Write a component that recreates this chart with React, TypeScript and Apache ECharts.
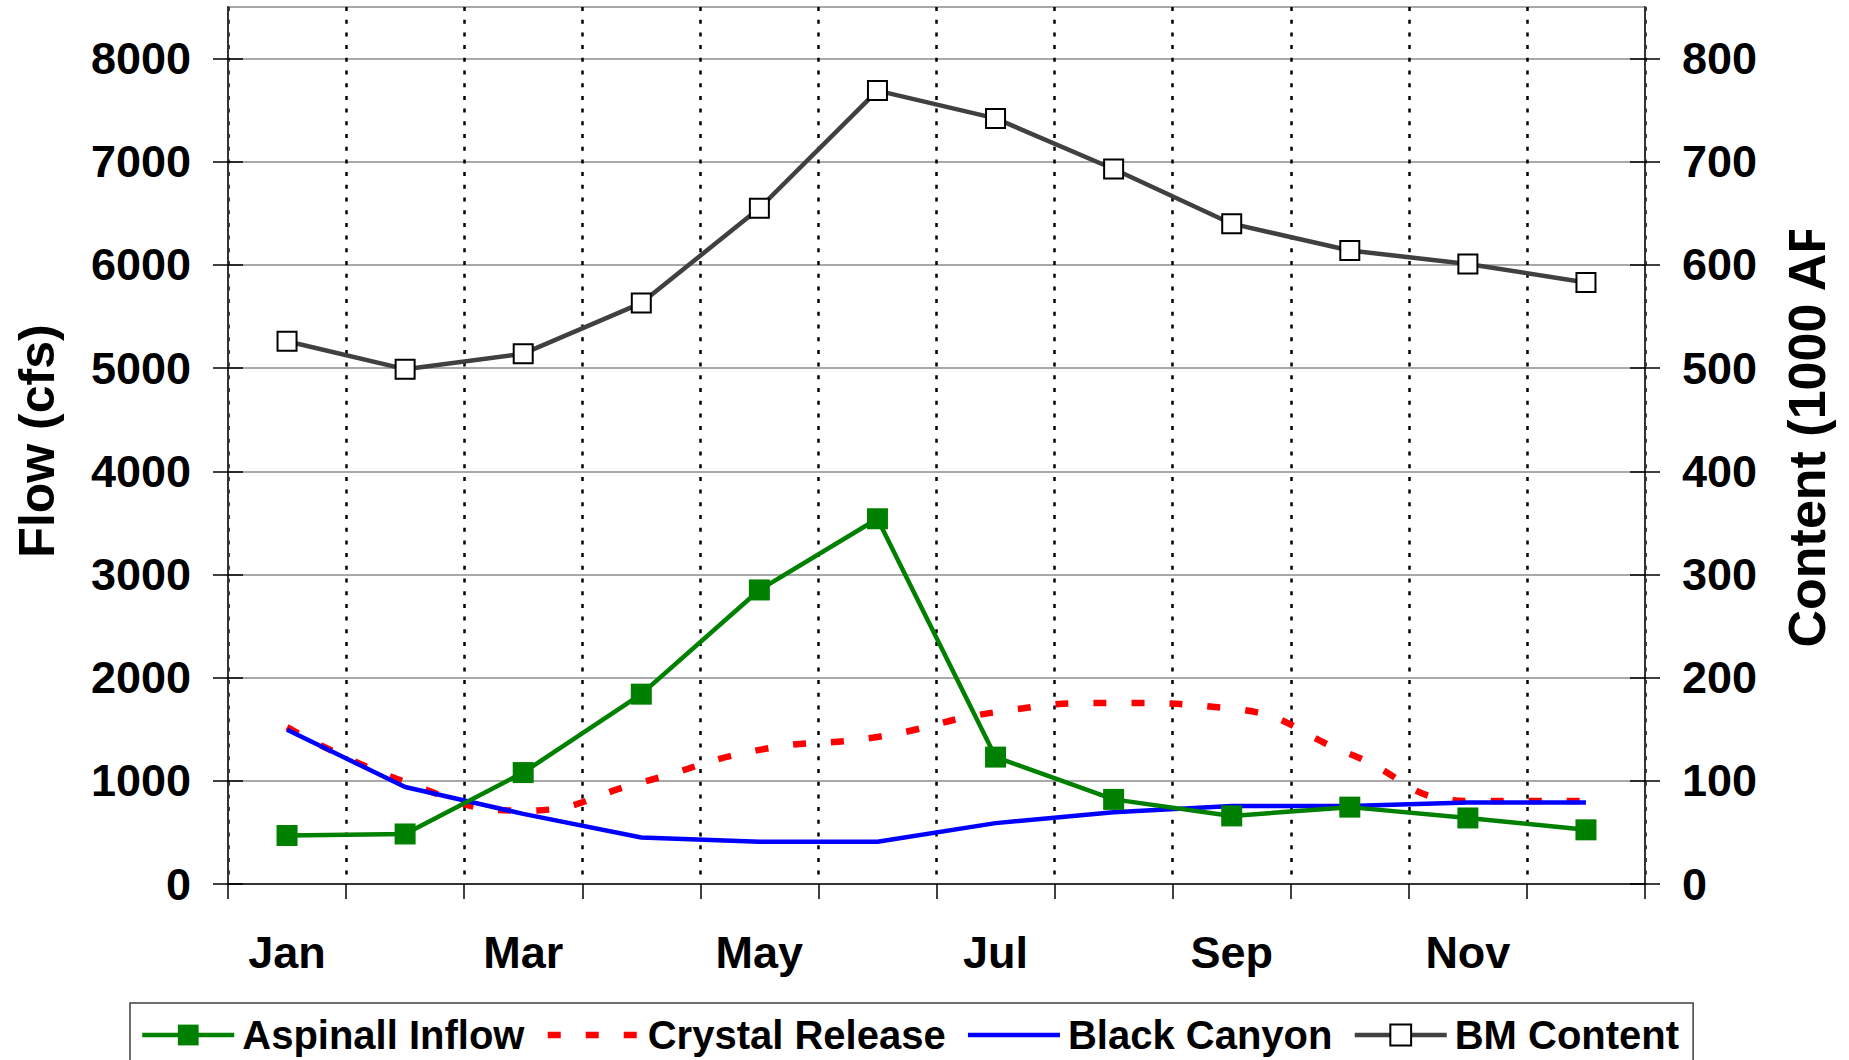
import React, { useEffect, useRef } from "react";
import * as echarts from "echarts";

const months = ["Jan", "Feb", "Mar", "Apr", "May", "Jun", "Jul", "Aug", "Sep", "Oct", "Nov", "Dec"];
const aspinallInflow = [470, 485, 1080, 1840, 2850, 3540, 1230, 820, 660, 745, 640, 525];
const crystalRelease = [1520, 990, 710, 985, 1300, 1425, 1665, 1755, 1700, 1260, 805, 805];
const blackCanyon = [1495, 940, 680, 450, 410, 410, 590, 695, 755, 755, 790, 790];
const bmContent = [526, 499, 514, 563, 655, 769, 742, 693, 640, 614, 601, 583];
const flowTicks = [0, 1000, 2000, 3000, 4000, 5000, 6000, 7000, 8000];
const contentTicks = [0, 100, 200, 300, 400, 500, 600, 700, 800];
const flowMax = 8500;
const contentMax = 850;

const FONT = "'Liberation Sans', Arial, Helvetica, sans-serif";

const CRYSTAL_DASH = [13, 25];

export default function App() {
  const ref = useRef<HTMLDivElement>(null);
  useEffect(() => {
    if (!ref.current) return;
    const chart = echarts.init(ref.current, null, { renderer: "svg" });
    const labelStyle = { fontFamily: FONT, fontWeight: "bold" as const, fontSize: 45, color: "#000" };
    const hiddenSymbol = { color: "rgba(0,0,0,0)", borderWidth: 0, opacity: 0 };
    const option: any = {
      animation: false,
      backgroundColor: "#fff",
      grid: {
        left: 228,
        right: 204,
        top: 7,
        bottom: 176,
        show: true,
        borderColor: "#8c8c8c",
        borderWidth: 1.5,
        backgroundColor: "transparent",
      },
      legend: {
        data: [
          { name: "Aspinall Inflow", lineStyle: { width: 4.5, color: "#008000" } },
          { name: "Crystal Release", lineStyle: { width: 6.5, color: "#ff0000", type: CRYSTAL_DASH }, itemStyle: hiddenSymbol },
          { name: "Black Canyon", lineStyle: { width: 4.5, color: "#0000ff" }, itemStyle: hiddenSymbol },
          { name: "BM Content", lineStyle: { width: 4.5, color: "#404040" } },
        ],
        left: 130,
        top: 1003,
        orient: "horizontal",
        itemWidth: 92,
        itemHeight: 26,
        itemGap: 20,
        padding: [12, 14, 12, 10],
        borderColor: "#404040",
        borderWidth: 1.5,
        textStyle: { fontFamily: FONT, fontWeight: "bold", fontSize: 40, color: "#000", padding: [0, 0, 0, 3] },
      },
      xAxis: [
        {
          type: "category",
          data: months,
          boundaryGap: true,
          axisLine: { show: true, lineStyle: { color: "#333", width: 2 } },
          axisTick: { show: true, interval: 0, length: 15, lineStyle: { color: "#000", width: 1.5 } },
          axisLabel: { interval: 1, margin: 46, ...labelStyle },
          splitLine: { show: true, interval: 0, lineStyle: { color: "#000", width: 2.5, type: [4, 8.7] } },
        },
      ],
      yAxis: [
        {
          type: "value",
          position: "left",
          min: 0,
          max: flowMax,
          interval: 1000,
          axisLine: { show: true, lineStyle: { color: "#333", width: 2 } },
          axisTick: { show: true, length: 15, customValues: flowTicks, lineStyle: { color: "#000", width: 1.5 } },
          axisLabel: { margin: 37, customValues: flowTicks, formatter: (v: number) => String(v), ...labelStyle },
          splitLine: { show: true, lineStyle: { color: "#8c8c8c", width: 1.5 } },
        },
        {
          type: "value",
          position: "right",
          min: 0,
          max: contentMax,
          interval: 100,
          axisLine: { show: true, lineStyle: { color: "#333", width: 2 } },
          axisTick: { show: true, length: 15, customValues: contentTicks, lineStyle: { color: "#000", width: 1.5 } },
          axisLabel: { margin: 37, customValues: contentTicks, formatter: (v: number) => String(v), ...labelStyle },
          splitLine: { show: false },
        },
        {
          type: "value",
          position: "left",
          min: 0,
          max: flowMax,
          interval: 1000,
          axisLine: { show: false },
          axisTick: { show: true, inside: true, length: 15, customValues: flowTicks, lineStyle: { color: "#000", width: 1.5 } },
          axisLabel: { show: false },
          splitLine: { show: false },
        },
        {
          type: "value",
          position: "right",
          min: 0,
          max: contentMax,
          interval: 100,
          axisLine: { show: false },
          axisTick: { show: true, inside: true, length: 15, customValues: contentTicks, lineStyle: { color: "#000", width: 1.5 } },
          axisLabel: { show: false },
          splitLine: { show: false },
        },
      ],
      series: [
        {
          name: "Crystal Release",
          type: "line",
          data: crystalRelease,
          smooth: true,
          symbol: "none",
          lineStyle: { color: "#ff0000", width: 6.5, type: CRYSTAL_DASH, cap: "butt" },
          itemStyle: { color: "#ff0000" },
        },
        {
          name: "Black Canyon",
          type: "line",
          data: blackCanyon,
          symbol: "none",
          lineStyle: { color: "#0000ff", width: 4.5 },
          itemStyle: { color: "#0000ff" },
        },
        {
          name: "Aspinall Inflow",
          type: "line",
          data: aspinallInflow,
          symbol: "rect",
          symbolSize: 21,
          lineStyle: { color: "#008000", width: 4.5 },
          itemStyle: { color: "#008000" },
        },
        {
          name: "BM Content",
          type: "line",
          yAxisIndex: 1,
          data: bmContent,
          symbol: "rect",
          symbolSize: 19,
          lineStyle: { color: "#404040", width: 4.5 },
          itemStyle: { color: "#ffffff", borderColor: "#000", borderWidth: 2 },
        },
      ],
      graphic: [
        {
          type: "text",
          x: 37,
          y: 441,
          rotation: Math.PI / 2,
          style: {
            text: "Flow (cfs)",
            fontFamily: FONT,
            fontWeight: "bold",
            fontSize: 50,
            fill: "#000",
            align: "center",
            verticalAlign: "middle",
          },
        },
        {
          type: "text",
          x: 1807,
          y: 426,
          rotation: Math.PI / 2,
          style: {
            text: "Content (1000 AF)",
            fontFamily: FONT,
            fontWeight: "bold",
            fontSize: 52,
            fill: "#000",
            align: "center",
            verticalAlign: "middle",
          },
        },
        {
          type: "rect",
          z: 100,
          shape: { x: 1770, y: 0, width: 79, height: 230 },
          style: { fill: "#ffffff" },
        },
      ],
    };
    chart.setOption(option);
    return () => chart.dispose();
  }, []);
  return <div ref={ref} style={{ position: "fixed", left: 0, top: 0, width: 1849, height: 1060 }} />;
}
